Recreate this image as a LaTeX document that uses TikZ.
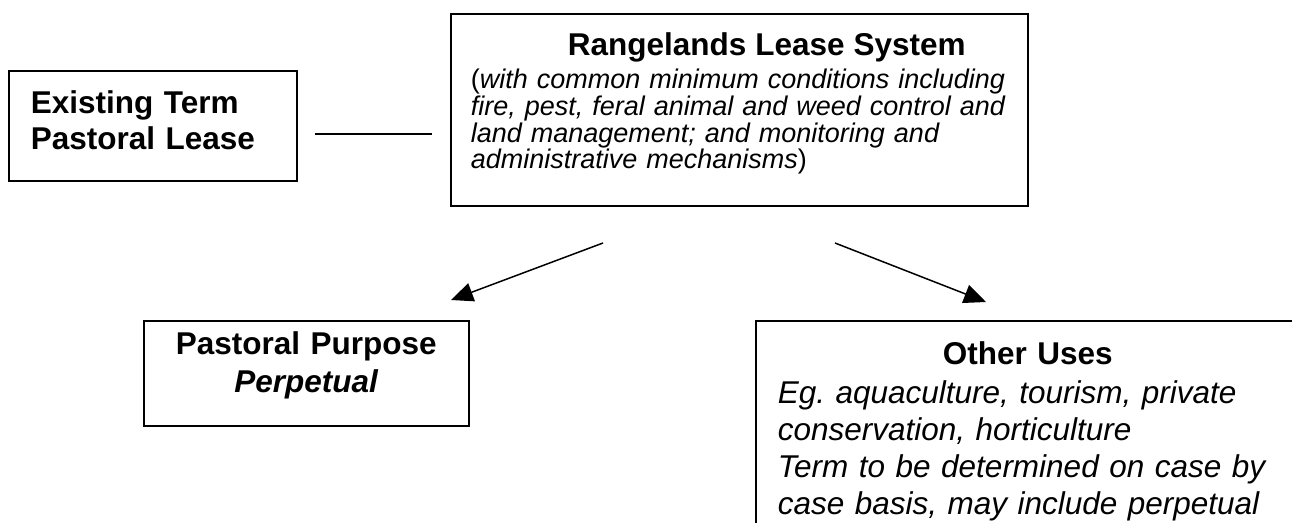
\documentclass[tikz,border=0pt]{standalone}
\usepackage{fontspec}
\setmainfont{Liberation Sans}
\usetikzlibrary{arrows.meta}

\newcommand{\headfont}{\normalfont\fontsize{31.5}{36}\selectfont\bfseries}
\newcommand{\smallit}{\fontsize{27}{26.7}\selectfont\itshape}
\newcommand{\bigit}{\fontsize{31.5}{37}\selectfont\itshape}

\begin{document}
\begin{tikzpicture}[
    x=1pt, y=-1pt,
    box/.style={
        draw,
        line width=1.6pt,
        anchor=north west
    },
    link/.style={line width=1.5pt},
    arrow/.style={-{Triangle[length=22pt,width=19pt]}, line width=1.5pt}
]
\clip (0,0) rectangle (1292,522);

\node[box, inner xsep=22pt, inner ysep=20pt, text width=244pt,
      text height=23pt, text depth=47pt, align=left, font=\headfont]
      (existing) at (8,70) {Existing Term\\Pastoral Lease};

\node[box, inner xsep=20pt, inner ysep=20pt, text width=537pt,
      text height=22pt, text depth=130pt, font=\smallit]
      (lease) at (450,13)
      {{\headfont\hspace*{97pt}Rangelands Lease System\par}\vspace{6.3pt}%
       \upshape(\itshape with common minimum conditions including\linebreak
       fire, pest, feral animal and weed control and\linebreak
       land management; and monitoring and\linebreak
       administrative mechanisms\/\upshape)\par};

\node[box, inner xsep=10pt, inner ysep=11pt, text width=305pt,
      text height=23pt, text depth=60pt, align=center,
      font=\fontsize{31.5}{38}\selectfont\bfseries]
      (pastoral) at (143,320) {Pastoral Purpose\\\textit{Perpetual}};

\node[box, inner xsep=22pt, inner ysep=21pt, text width=500pt,
      text height=23pt, text depth=200pt, font=\bigit]
      (other) at (755,320)
      {{\centering\headfont Other Uses\par}\vspace{2pt}%
       Eg.\ aquaculture, tourism, private\\
       conservation, horticulture\\
       Term to be determined on case by\\
       case basis, may include perpetual\par};

% connectors
\coordinate (ja) at (315,134);
\coordinate (jb) at (432,134);
\coordinate (ls) at (603,243);
\coordinate (lt) at (451,300);
\coordinate (rs) at (835,243);
\coordinate (rt) at (986,302);

\draw[link] (ja) -- (jb);
\draw[arrow] (ls) -- (lt);
\draw[arrow] (rs) -- (rt);

\end{tikzpicture}
\end{document}
